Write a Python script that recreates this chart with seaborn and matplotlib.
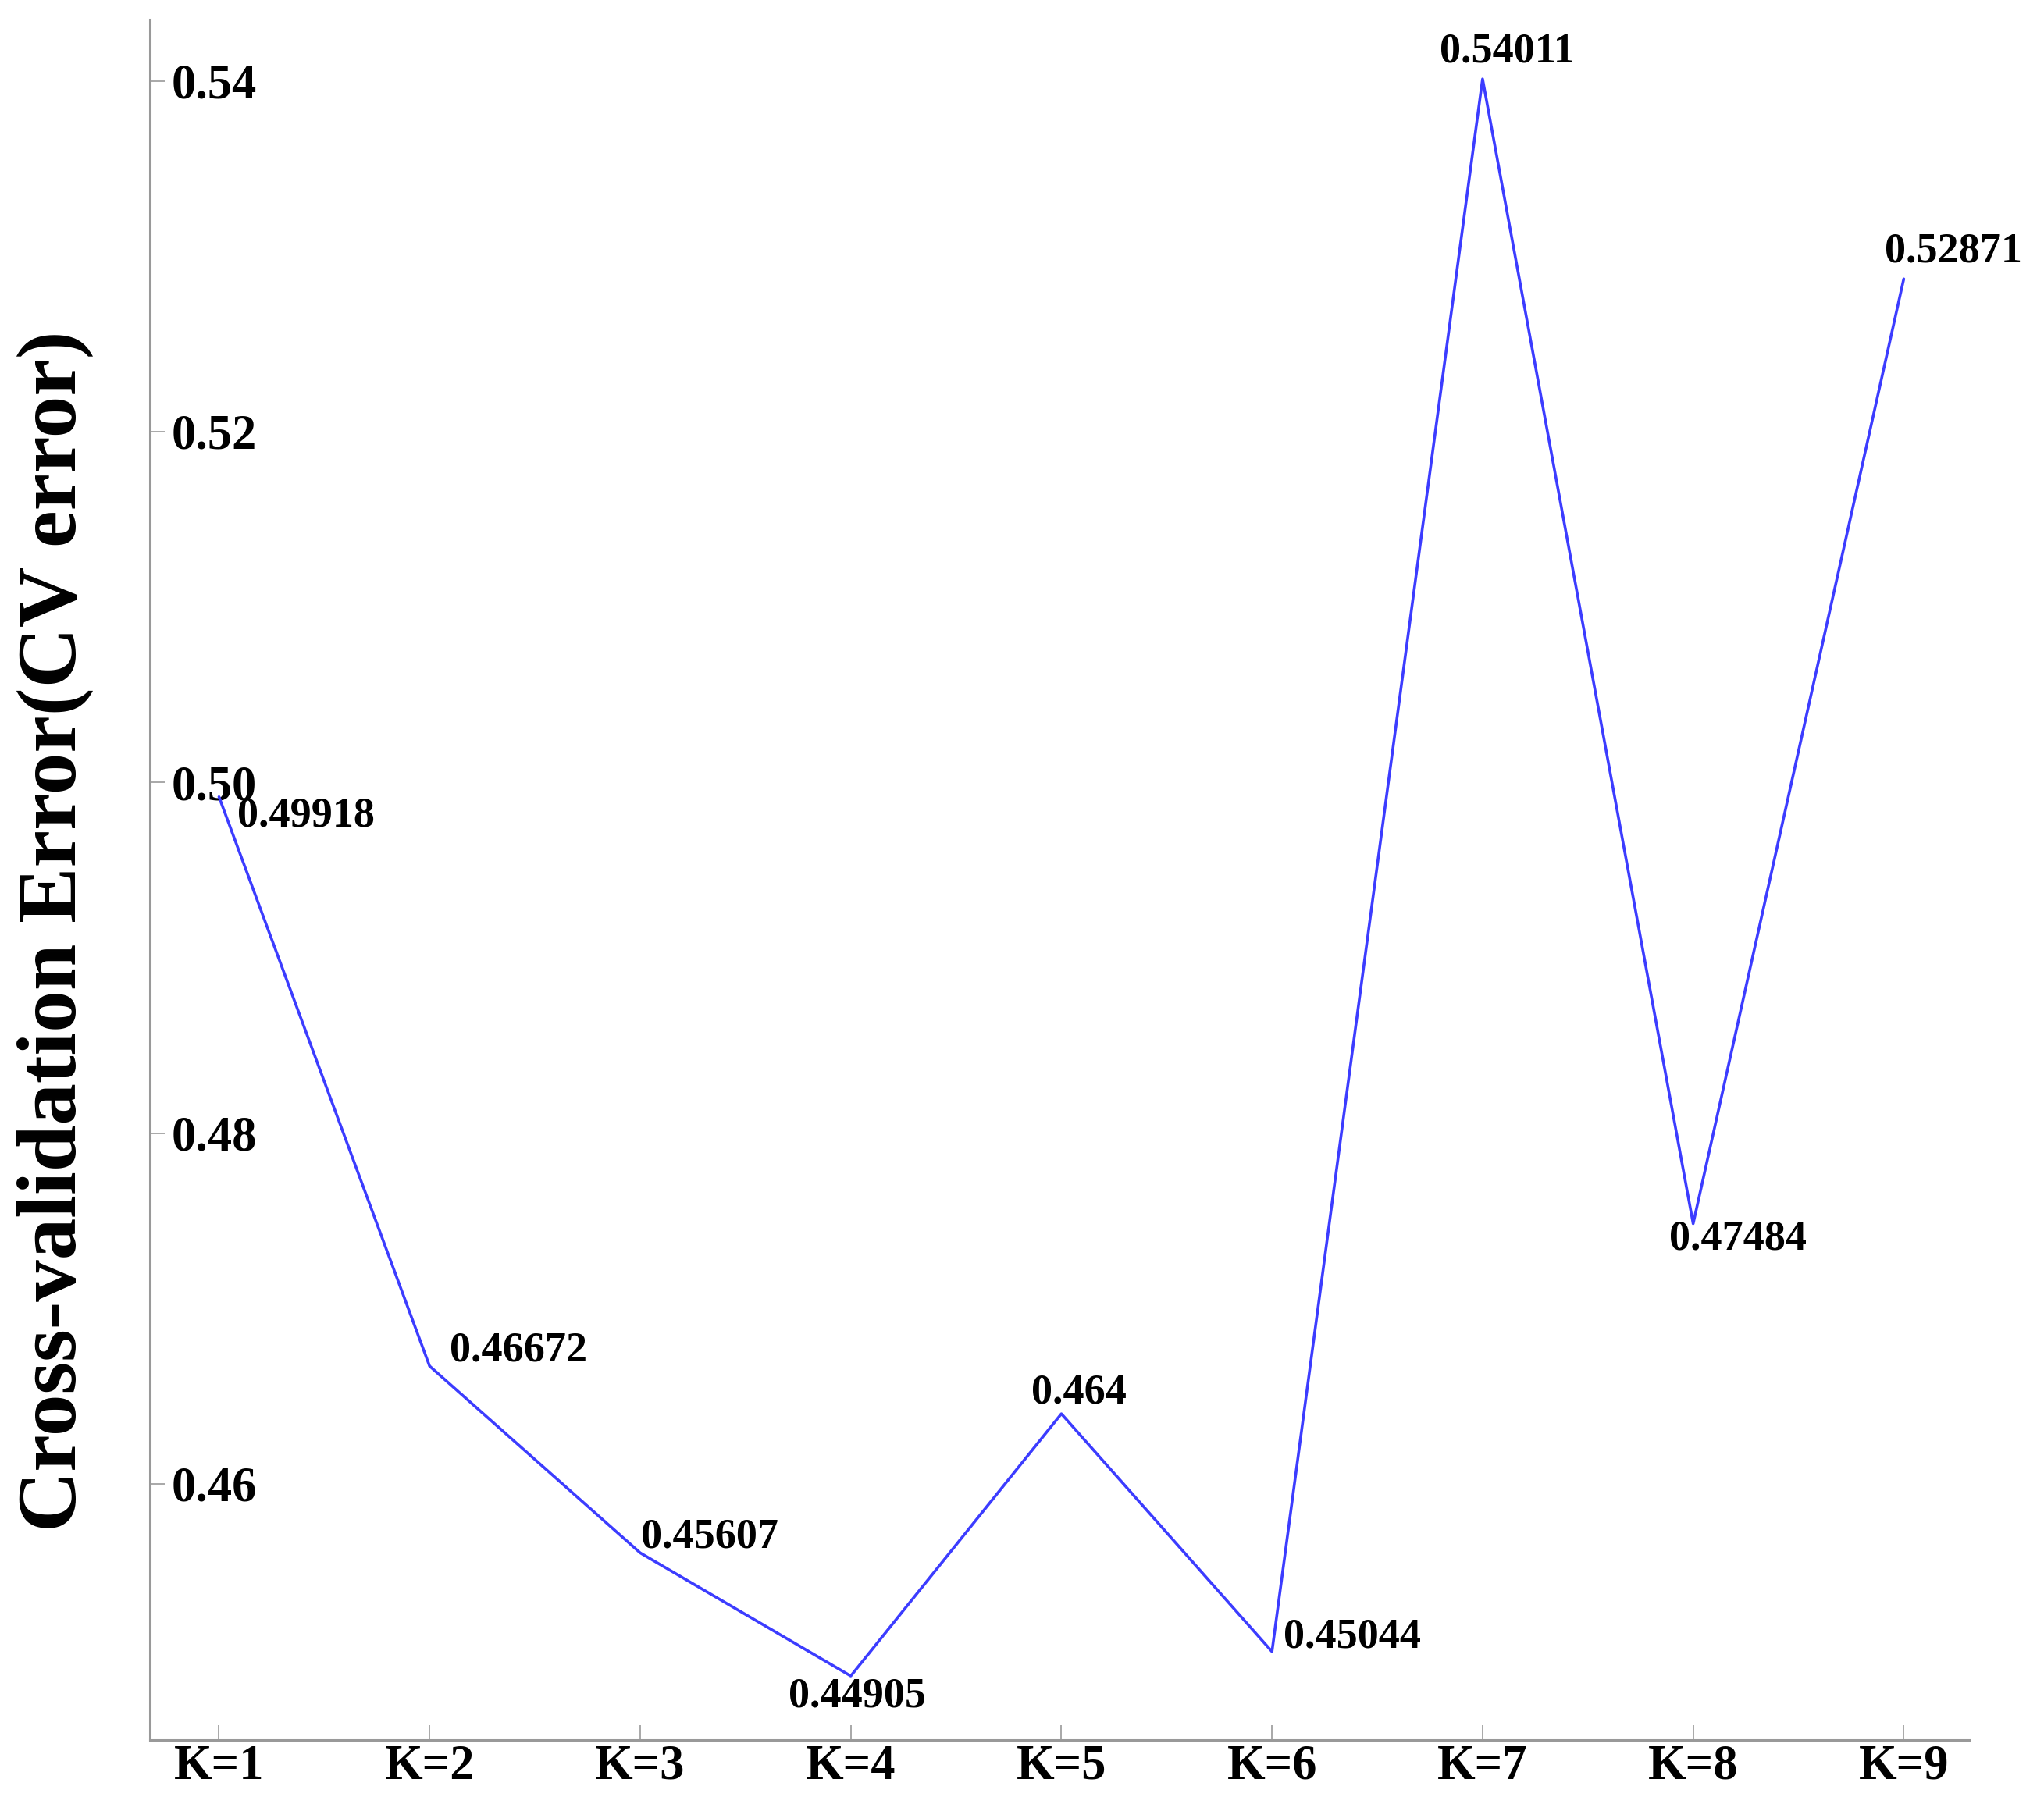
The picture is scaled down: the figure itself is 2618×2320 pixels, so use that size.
import pandas as pd
import matplotlib.pyplot as plt
import seaborn as sns

# data
k_values = [1, 2, 3, 4, 5, 6, 7, 8, 9]
k_labels = ['K=1', 'K=2', 'K=3', 'K=4', 'K=5', 'K=6', 'K=7', 'K=8', 'K=9']
cv_error = [0.49918, 0.46672, 0.45607, 0.44905, 0.464, 0.45044, 0.54011, 0.47484, 0.52871]
y_ticks = [0.46, 0.48, 0.50, 0.52, 0.54]

df = pd.DataFrame({'K': k_values, 'CV error': cv_error})

# label offsets (points) relative to each data point
label_offsets = [(80, -18), (82, 14), (64, 14), (6, -19), (16, 19),
                 (74, 13), (23, 25), (41, -14), (46, 25)]

sns.set_style('white', {'xtick.bottom': True, 'ytick.left': True})
plt.rcParams['font.family'] = ['Liberation Serif', 'DejaVu Serif']
plt.rcParams['font.weight'] = 'bold'
plt.rcParams['text.color'] = 'black'
plt.rcParams['xtick.labelcolor'] = 'black'
plt.rcParams['ytick.labelcolor'] = 'black'
plt.rcParams['axes.labelcolor'] = 'black'

fig = plt.figure(figsize=(26.18, 23.2), dpi=100)
ax = fig.add_axes([192 / 2618, 1 - 2229 / 2320, 2330 / 2618, 2204 / 2320])

sns.lineplot(data=df, x='K', y='CV error', color='#3c3cff', linewidth=2.6, ax=ax)

for x, y, (dx, dy) in zip(k_values, cv_error, label_offsets):
    ax.annotate(f'{y:g}', (x, y), xytext=(dx, dy), textcoords='offset points',
                ha='center', va='center', fontsize=39, fontweight='bold',
                color='black')

ax.set_xlim(0.672, 9.31)
ax.set_ylim(0.4454, 0.5435)
ax.set_xticks(k_values)
ax.set_xticklabels(k_labels)
ax.set_yticks(y_ticks)
ax.set_yticklabels([f'{t:.2f}' for t in y_ticks])

for s in ['top', 'right']:
    ax.spines[s].set_visible(False)
for s in ['left', 'bottom']:
    ax.spines[s].set_color('#999999')
    ax.spines[s].set_linewidth(2.2)

ax.tick_params(axis='both', direction='in', length=14, width=1.2, color='#999999',
               labelsize=45, labelcolor='black')
ax.tick_params(axis='y', pad=-20)
ax.tick_params(axis='x', pad=4)
for lab in ax.get_yticklabels():
    lab.set_horizontalalignment('left')
    lab.set_fontweight('bold')
for lab in ax.get_xticklabels():
    lab.set_fontweight('bold')

ax.set_xlabel('')
ax.set_ylabel('Cross-validation Error(CV error)', fontsize=77, fontweight='bold',
              va='center', color='black')
ax.yaxis.set_label_coords(-0.052, 0.47)

fig.savefig('out.png', dpi=100)
